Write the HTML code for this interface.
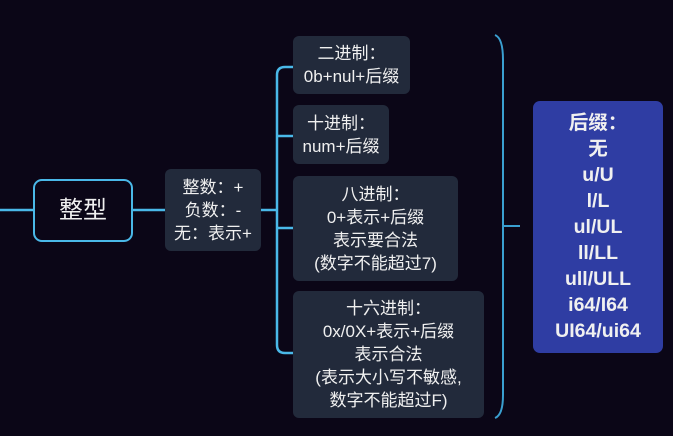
<!DOCTYPE html>
<html><head><meta charset="utf-8"><style>
body{margin:0;width:673px;height:436px;background:#0b0617;overflow:hidden;position:relative;font-family:"Liberation Sans","Noto Sans CJK SC",sans-serif;color:#f0f0f0}
.b{position:absolute;background:#222a3b;border-radius:6px;text-align:center;font-size:17px;line-height:23px;box-sizing:border-box;display:flex;flex-direction:column;justify-content:center;white-space:nowrap}
</style></head><body>
<svg width="673" height="436" style="position:absolute;left:0;top:0" fill="none" stroke="#4ab8e8" stroke-width="2.5">
<path d="M0 210H34M132 210H166M260 210H277"/>
<path d="M293 67H285Q277 67 277 75V345Q277 353 285 353H293"/>
<path d="M277 136H293M277 228H293"/>
<path d="M495 35Q503 38 503 60V395Q503 415 495 418" stroke-width="2" stroke="#3a9fd0"/>
<path d="M503 226H520" stroke="#3a9fd0" stroke-width="2"/>
</svg>
<div class="b" style="left:33px;top:179px;width:100px;height:63px;background:#0b0617;border:2.5px solid #4ab8e8;border-radius:9px;font-size:24px">整型</div>
<div class="b" style="left:165px;top:169px;width:96px;height:82px">整数：+<br>负数：-<br>无：表示+</div>
<div class="b" style="left:293px;top:36px;width:117px;height:58px">二进制：<br>0b+nul+后缀</div>
<div class="b" style="left:293px;top:105px;width:96px;height:59px">十进制：<br>num+后缀</div>
<div class="b" style="left:293px;top:176px;width:165px;height:105px">八进制：<br>0+表示+后缀<br>表示要合法<br>(数字不能超过7)</div>
<div class="b" style="left:293px;top:291px;width:191px;height:127px">十六进制：<br>0x/0X+表示+后缀<br>表示合法<br>(表示大小写不敏感,<br>数字不能超过F)</div>
<div class="b" style="left:533px;top:101px;width:130px;height:252px;background:#2f3da3;font-weight:bold;font-size:19.5px;line-height:26px;border-radius:7px">后缀：<br>无<br>u/U<br>l/L<br>ul/UL<br>ll/LL<br>ull/ULL<br>i64/I64<br>UI64/ui64</div>
</body></html>
